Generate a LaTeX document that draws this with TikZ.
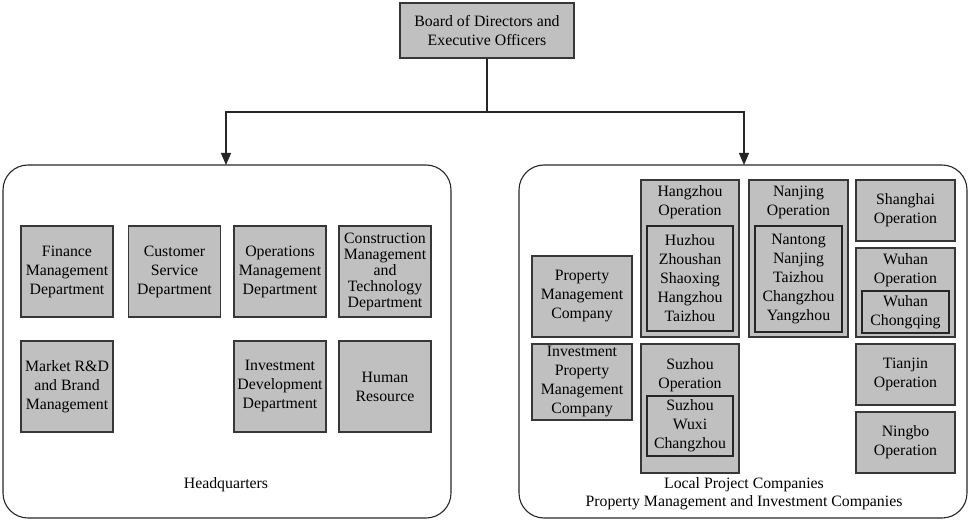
\documentclass[tikz,border=0pt]{standalone}
\usepackage{fontspec}
\setmainfont{Liberation Serif}
\usetikzlibrary{arrows.meta}
\definecolor{boxgray}{RGB}{192,192,192}
\definecolor{edgegray}{RGB}{55,55,55}
\tikzset{
  txt/.style={font=\fontsize{15.8}{19}\selectfont, align=center, inner sep=0pt},
  dept/.style={txt, draw=edgegray, fill=boxgray, line width=1.1pt, minimum width=92pt, minimum height=91pt},
  opbox/.style={draw=edgegray, fill=boxgray, line width=1.1pt, inner sep=0pt},
  inbox/.style={txt, draw=black!85, line width=1.1pt},
  container/.style={draw=black!85, line width=1.1pt, rounded corners=25pt},
  arr/.style={draw=black!85, line width=1.2pt, -{Triangle[width=10pt,length=12pt]}},
  conn/.style={draw=black!85, line width=1.2pt},
}
\begin{document}
\begin{tikzpicture}[x=1pt,y=-1pt]
\useasboundingbox (0,0) rectangle (968,521);

% top node
\node[txt, draw=edgegray, fill=boxgray, line width=1.1pt, minimum width=174pt, minimum height=55pt] (bod) at (487,30.5) {Board of Directors and\\Executive Officers};

% containers
\draw[container] (3,165) rectangle (451,518);
\draw[container] (519,165) rectangle (967,518);

% connectors
\coordinate (split) at (487,112);
\coordinate (hqin) at (226,165);
\coordinate (lpin) at (744,165);
\draw[conn] (bod.south) -- (split);
\draw[arr] (split) -| (hqin);
\draw[arr] (split) -| (lpin);

% headquarters departments
\node[dept] (fin) at (67,271.5) {Finance\\Management\\Department};
\node[dept] (cus) at (174.5,271.5) {Customer\\Service\\Department};
\node[dept] (ops) at (280,271.5) {Operations\\Management\\Department};
\node[dept, font=\fontsize{15.8}{16}\selectfont] (con) at (385,271.5) {Construction\\Management\\and\\Technology\\Department};
\node[dept] (mkt) at (67,386.5) {Market R\&D\\and Brand\\Management};
\node[dept] (inv) at (280,386.5) {Investment\\Development\\Department};
\node[dept] (hr) at (385,386.5) {Human\\Resource};
\node[txt] (hq) at (226,485) {Headquarters};

% local project companies
\node[txt, opbox, minimum width=100pt, minimum height=81pt] (pmc) at (582,296.5) {Property\\Management\\Company};
\node[txt, opbox, minimum width=100pt, minimum height=76pt] (ipmc) at (582,382) {Investment\\Property\\Management\\Company};

% Hangzhou
\node[opbox, minimum width=98pt, minimum height=157pt] (hz) at (690,258.5) {};
\node[txt] (hzt) at (690,202) {Hangzhou\\Operation};
\node[inbox, minimum width=86pt, minimum height=105pt] (hzi) at (690,278.5) {Huzhou\\Zhoushan\\Shaoxing\\Hangzhou\\Taizhou};

% Suzhou
\node[opbox, minimum width=98pt, minimum height=129pt] (sz) at (690,408.5) {};
\node[txt] (szt) at (690,375) {Suzhou\\Operation};
\node[inbox, minimum width=86pt, minimum height=60pt] (szi) at (690,426) {Suzhou\\Wuxi\\Changzhou};

% Nanjing
\node[opbox, minimum width=99pt, minimum height=157pt] (nj) at (798.5,258.5) {};
\node[txt] (njt) at (798.5,202) {Nanjing\\Operation};
\node[inbox, minimum width=87pt, minimum height=106pt] (nji) at (798.5,279) {Nantong\\Nanjing\\Taizhou\\Changzhou\\Yangzhou};

% Shanghai
\node[txt, opbox, minimum width=99pt, minimum height=61pt] (sh) at (905.5,210.5) {Shanghai\\Operation};

% Wuhan
\node[opbox, minimum width=99pt, minimum height=89pt] (wh) at (905.5,292.5) {};
\node[txt] (wht) at (905.5,270) {Wuhan\\Operation};
\node[inbox, minimum width=87pt, minimum height=42pt] (whi) at (905.5,312) {Wuhan\\Chongqing};

% Tianjin, Ningbo
\node[txt, opbox, minimum width=99pt, minimum height=61pt] (tj) at (905.5,374.5) {Tianjin\\Operation};
\node[txt, opbox, minimum width=99pt, minimum height=61pt] (nb) at (905.5,442.5) {Ningbo\\Operation};

\node[txt, font=\fontsize{15.8}{18}\selectfont] (lpc) at (744,494) {Local Project Companies\\Property Management and Investment Companies};
\end{tikzpicture}
\end{document}
